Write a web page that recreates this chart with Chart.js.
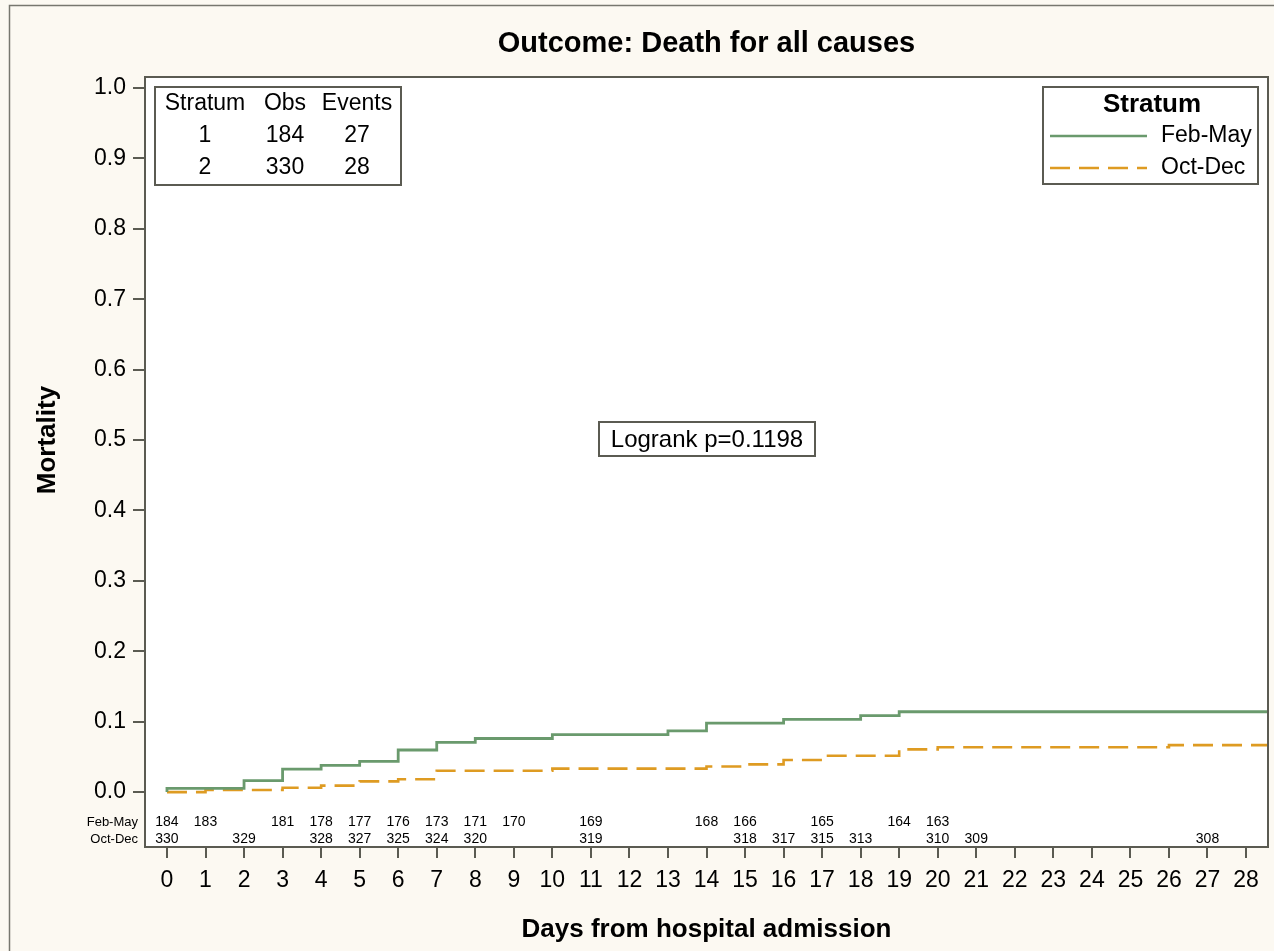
<!DOCTYPE html>
<html>
<head>
<meta charset="utf-8">
<title>Outcome: Death for all causes</title>
<script src="https://cdn.jsdelivr.net/npm/chart.js@4.4.1/dist/chart.umd.min.js"></script>
<style>
  html, body { margin: 0; padding: 0; background: #fcf9f2; }
  canvas { display: block; }
</style>
</head>
<body>
<canvas id="km" width="1274" height="951"></canvas>
<script>
// Kaplan-Meier mortality (1 - S(t)), steps
const febMayDays = [0, 0, 2, 3, 4, 5, 6, 7, 8, 10, 13, 14, 16, 18, 19, 28.57];
const febMayMort = [0, 0.0054, 0.0163, 0.0326, 0.0380, 0.0435, 0.0598, 0.0707, 0.0761, 0.0815, 0.0870, 0.0978, 0.1033, 0.1087, 0.1141, 0.1141];

const octDecDays = [0, 1, 3, 4, 5, 6, 7, 10, 14, 15, 16, 17, 19, 20, 26, 28.57];
const octDecMort = [0, 0.0030, 0.0061, 0.0091, 0.0152, 0.0182, 0.0303, 0.0333, 0.0364, 0.0394, 0.0455, 0.0515, 0.0606, 0.0636, 0.0667, 0.0667];

// numbers at risk (only shown where they change)
const riskDaysFeb = [0, 1, 3, 4, 5, 6, 7, 8, 9, 11, 14, 15, 17, 19, 20];
const riskFeb     = [184, 183, 181, 178, 177, 176, 173, 171, 170, 169, 168, 166, 165, 164, 163];
const riskDaysOct = [0, 2, 4, 5, 6, 7, 8, 11, 15, 16, 17, 18, 20, 21, 27];
const riskOct     = [330, 329, 328, 327, 325, 324, 320, 319, 318, 317, 315, 313, 310, 309, 308];

// inset table
const strata = ['1', '2'];
const strataObs = [184, 330];
const strataEvents = [27, 28];

const xTicks = [0, 1, 2, 3, 4, 5, 6, 7, 8, 9, 10, 11, 12, 13, 14, 15, 16, 17, 18, 19, 20, 21, 22, 23, 24, 25, 26, 27, 28];
const yTicks = [0, 0.1, 0.2, 0.3, 0.4, 0.5, 0.6, 0.7, 0.8, 0.9, 1.0];

const FONT = "Arial, 'Liberation Sans', Helvetica, sans-serif";
const GREEN = '#6a9a6d';
const ORANGE = '#de9b22';
const AXIS = '#5b5b52';

const toPoints = (xs, ys) => xs.map((x, i) => ({ x: x, y: ys[i] }));

const decorations = {
    id: 'decorations',
    beforeDraw(chart) {
        const c = chart.ctx;
        const a = chart.chartArea;
        c.save();
        c.fillStyle = '#fcf9f2';
        c.fillRect(0, 0, chart.width, chart.height);
        c.strokeStyle = '#77776f';
        c.lineWidth = 1.5;
        c.strokeRect(9.5, 5.5, chart.width + 20, chart.height + 20);
        c.fillStyle = '#ffffff';
        c.fillRect(a.left, a.top, a.right - a.left, a.bottom - a.top);
        c.restore();
    },
    afterDraw(chart) {
        const c = chart.ctx;
        const a = chart.chartArea;
        const xs = chart.scales.x;
        const ys = chart.scales.y;
        c.save();

        // plot frame
        c.strokeStyle = AXIS;
        c.lineWidth = 2;
        c.strokeRect(a.left, a.top, a.right - a.left, a.bottom - a.top);

        // title
        c.fillStyle = '#000';
        c.textAlign = 'center';
        c.textBaseline = 'middle';
        c.font = 'bold 29px ' + FONT;
        c.fillText('Outcome: Death for all causes', (a.left + a.right) / 2, 44);

        // axis titles
        c.font = 'bold 26px ' + FONT;
        c.fillText('Days from hospital admission', (a.left + a.right) / 2, 930);
        c.save();
        c.translate(48, (ys.getPixelForValue(0) + ys.getPixelForValue(1)) / 2);
        c.rotate(-Math.PI / 2);
        c.fillText('Mortality', 0, 0);
        c.restore();

        // numbers at risk
        const row1 = a.bottom - 25;
        const row2 = a.bottom - 8;
        c.font = '14px ' + FONT;
        c.textAlign = 'center';
        riskDaysFeb.forEach((d, i) => c.fillText(String(riskFeb[i]), xs.getPixelForValue(d), row1));
        riskDaysOct.forEach((d, i) => c.fillText(String(riskOct[i]), xs.getPixelForValue(d), row2));
        c.textAlign = 'right';
        c.font = '13px ' + FONT;
        c.fillText('Feb-May', a.left - 7, row1);
        c.fillText('Oct-Dec', a.left - 7, row2);

        // inset table
        c.strokeStyle = AXIS;
        c.lineWidth = 2;
        c.fillStyle = '#fff';
        c.fillRect(155, 87, 246, 98);
        c.strokeRect(155, 87, 246, 98);
        c.fillStyle = '#000';
        c.font = '23px ' + FONT;
        c.textAlign = 'center';
        const cols = [205, 285, 357];
        c.fillText('Stratum', cols[0], 104);
        c.fillText('Obs', cols[1], 104);
        c.fillText('Events', cols[2], 104);
        strata.forEach((s, i) => {
            const y = 136 + i * 32;
            c.fillText(s, cols[0], y);
            c.fillText(String(strataObs[i]), cols[1], y);
            c.fillText(String(strataEvents[i]), cols[2], y);
        });

        // legend
        c.fillStyle = '#fff';
        c.fillRect(1043, 87, 215, 97);
        c.strokeRect(1043, 87, 215, 97);
        c.fillStyle = '#000';
        c.font = 'bold 26px ' + FONT;
        c.fillText('Stratum', 1152, 105);
        c.font = '23px ' + FONT;
        c.textAlign = 'left';
        chart.data.datasets.forEach((ds, i) => {
            const y = 136 + i * 32;
            c.strokeStyle = ds.borderColor;
            c.lineWidth = 2.5;
            c.setLineDash(ds.borderDash || []);
            c.beginPath();
            c.moveTo(1050, y);
            c.lineTo(1147, y);
            c.stroke();
            c.setLineDash([]);
            c.fillText(ds.label, 1161, y);
        });

        // logrank box
        c.strokeStyle = AXIS;
        c.lineWidth = 2;
        c.fillStyle = '#fff';
        c.fillRect(599, 422, 216, 34);
        c.strokeRect(599, 422, 216, 34);
        c.fillStyle = '#000';
        c.textAlign = 'center';
        c.font = '24px ' + FONT;
        c.fillText('Logrank p=0.1198', 707, 440);

        c.restore();
    }
};

new Chart(document.getElementById('km'), {
    type: 'line',
    data: {
        datasets: [{
            label: 'Feb-May',
            data: toPoints(febMayDays, febMayMort),
            borderColor: GREEN,
            borderWidth: 2.8,
            stepped: 'before',
            pointRadius: 0,
            fill: false
        }, {
            label: 'Oct-Dec',
            data: toPoints(octDecDays, octDecMort),
            borderColor: ORANGE,
            borderWidth: 2.6,
            borderDash: [20, 9],
            stepped: 'before',
            pointRadius: 0,
            fill: false
        }]
    },
    options: {
        responsive: false,
        animation: false,
        devicePixelRatio: 1,
        layout: { padding: { left: 0, top: 77, right: 6, bottom: 0 } },
        plugins: {
            legend: { display: false },
            title: { display: false },
            tooltip: { enabled: false }
        },
        scales: {
            x: {
                type: 'linear',
                min: -0.57,
                max: 28.57,
                afterBuildTicks: (s) => { s.ticks = xTicks.map(v => ({ value: v })); },
                afterFit: (s) => { s.height = 104; },
                ticks: {
                    font: { family: FONT, size: 23 },
                    color: '#000',
                    padding: 9,
                    maxRotation: 0,
                    autoSkip: false
                },
                grid: {
                    drawOnChartArea: false,
                    drawTicks: true,
                    tickLength: 11,
                    color: AXIS,
                    lineWidth: 2
                },
                border: { display: false }
            },
            y: {
                min: -0.078,
                max: 1.0156,
                afterBuildTicks: (s) => { s.ticks = yTicks.map(v => ({ value: v })); },
                afterFit: (s) => { s.width = 145; },
                ticks: {
                    font: { family: FONT, size: 23 },
                    color: '#000',
                    padding: 7,
                    callback: (v) => Number(v).toFixed(1)
                },
                grid: {
                    drawOnChartArea: false,
                    drawTicks: true,
                    tickLength: 12,
                    color: AXIS,
                    lineWidth: 2
                },
                border: { display: false }
            }
        }
    },
    plugins: [decorations]
});
</script>
</body>
</html>
